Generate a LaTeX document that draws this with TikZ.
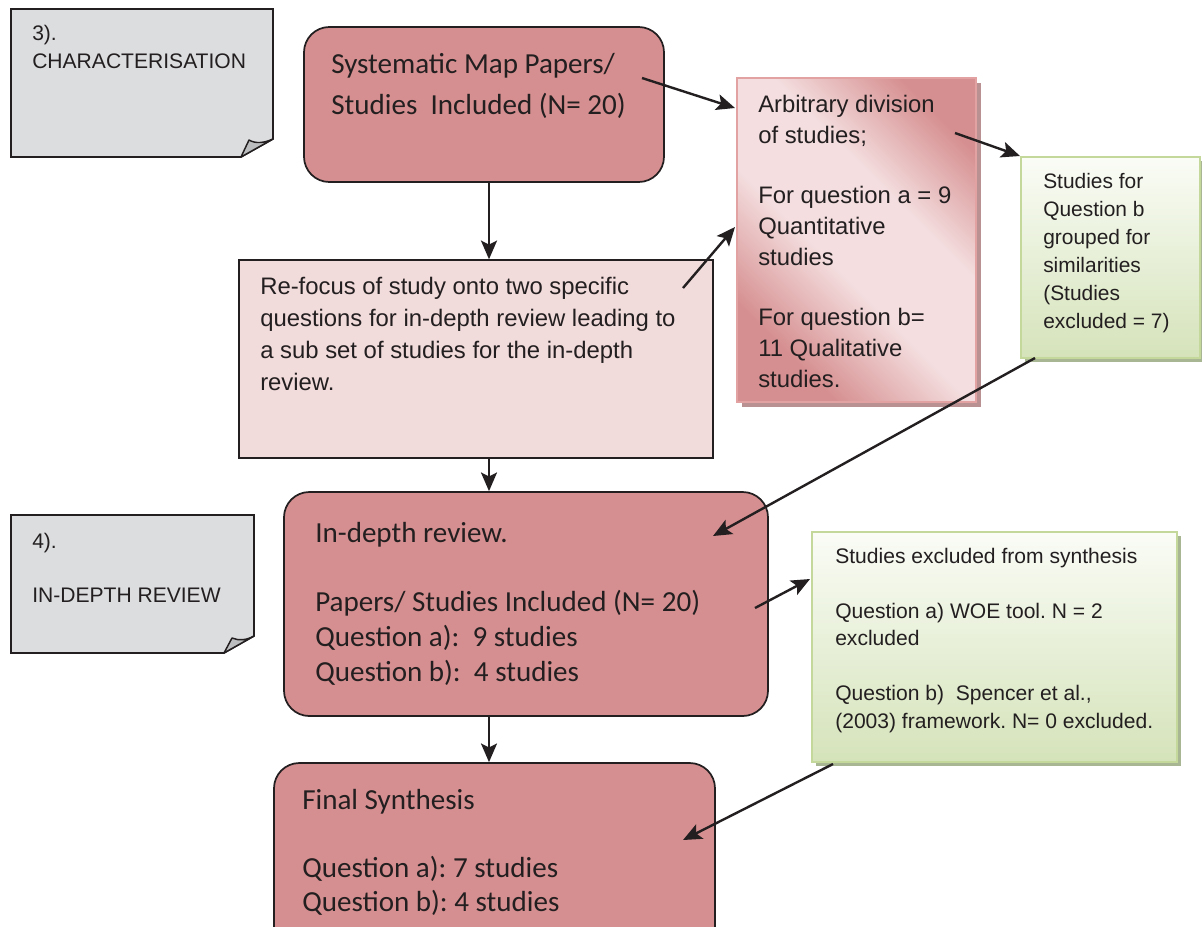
\documentclass[tikz,border=0pt]{standalone}
\usepackage{fontspec}
\setmainfont{Liberation Sans}
\newfontfamily\calib{Carlito}
\usetikzlibrary{calc,fit,arrows.meta,shadings}
\frenchspacing
\definecolor{rose}{RGB}{214,143,144}
\definecolor{roselight}{RGB}{244,222,223}
\definecolor{roseedge}{RGB}{226,162,162}
\definecolor{pinkD}{RGB}{242,219,219}
\definecolor{notegray}{RGB}{220,221,223}
\definecolor{flapgray}{RGB}{188,189,191}
\definecolor{greenbot}{RGB}{213,227,186}
\definecolor{greentop}{RGB}{250,252,246}
\definecolor{greenedge}{RGB}{196,216,156}
\definecolor{ink}{RGB}{35,31,32}
\definecolor{shadowpink}{RGB}{185,145,146}
\definecolor{shadowgreen}{RGB}{168,182,148}
\pgfdeclareverticalshading{roseshade}{100bp}{color(0bp)=(rose); color(27bp)=(rose); color(44bp)=(roselight); color(60bp)=(roselight); color(76bp)=(rose); color(100bp)=(rose)}
\tikzset{
  arr/.style={line width=1.8pt, draw=ink, -{Stealth[length=14pt,width=12pt,inset=3pt]}},
  roundbox/.style={draw=ink, line width=1.3pt, fill=rose, rounded corners=19pt, inner sep=0pt},
  gradbox/.style={draw=roseedge, line width=1.5pt, inner sep=0pt, shading=roseshade, shading angle=-45},
  greenbox/.style={draw=greenedge, line width=1.5pt, inner sep=0pt, top color=greentop, bottom color=greenbot},
  plainbox/.style={draw=ink, line width=1.1pt, fill=pinkD, inner sep=0pt},
  note/.style={draw=ink, line width=1.2pt, fill=notegray, line join=miter},
  flap/.style={draw=ink, line width=1.1pt, fill=flapgray, line join=round},
  txt/.style={anchor=base west, inner sep=0pt, text=ink, align=left},
  arialS/.style={font=\fontsize{15.8pt}{21pt}\selectfont},
  arialM/.style={font=\fontsize{17.9pt}{24pt}\selectfont},
  calb/.style={font=\calib\fontsize{21.8pt}{25.5pt}\selectfont},
}
\begin{document}
\begin{tikzpicture}[x=0.75pt,y=-0.75pt]
\clip (0,0) rectangle (1202,926);
\fill[white] (0,0) rectangle (1202,926);

% notes
\draw[note] (11,9) -- (273,9) -- (273,139) -- (241,157) -- (11,157) -- cycle;
\draw[flap] (241,157) -- (249,140) .. controls (256,144) and (264,143) .. (273,139) -- cycle;
\node[txt, arialS] (t3) at (32,68) {3).\\CHARACTERISATION};

\draw[note] (11,515) -- (254,515) -- (254,636) -- (224,653) -- (11,653) -- cycle;
\draw[flap] (224,653) -- (232,638) .. controls (239,641) and (247,640) .. (254,636) -- cycle;
\node[txt, font=\fontsize{15.8pt}{20.25pt}\selectfont] (t4) at (32,602) {4).\\[20.25pt]IN-DEPTH REVIEW};

% box A
\node[roundbox, fit={(304,27) (664,182)}] (A) {};
\node[txt, font=\calib\fontsize{21.8pt}{30.75pt}\selectfont] (tA) at (331,114) {Systematic Map Papers/\\Studies\ \ Included (N= 20)};

% box B
\fill[shadowpink] (742,83) rectangle (981,407);
\node[gradbox, fit={(737,78) (976,402)}] (B) {};
\node[txt, font=\fontsize{17.9pt}{23.25pt}\selectfont] (tB) at (758,387) {Arbitrary division\\of studies;\\[21.75pt]For question a = 9\\Quantitative\\studies\\[21.75pt]For question b=\\11 Qualitative\\studies.};

% box C
\fill[shadowgreen] (1025,161) rectangle (1204,362);
\node[greenbox, fit={(1021,157) (1200,358)}] (C) {};
\node[txt, font=\fontsize{15.7pt}{21pt}\selectfont] (tC) at (1043,328) {Studies for\\Question b\\grouped for\\similarities\\(Studies\\excluded = 7)};

% box D
\node[plainbox, fit={(239,260) (713,458)}] (D) {};
\node[txt, arialM] (tD) at (260,390) {Re-focus of study onto two specific\\questions for in-depth review leading to\\a sub set of studies for the in-depth\\review.};

% box E
\node[roundbox, fit={(284,492) (768,716)}] (E) {};
\node[txt, font=\calib\fontsize{21.8pt}{26pt}\selectfont] (tE) at (315,681) {In-depth review.\\[26pt]Papers/ Studies Included (N= 20)\\Question a):\ \ 9 studies\\Question b):\ \ 4 studies};

% box F
\fill[shadowgreen] (816,536) rectangle (1181,766);
\node[greenbox, fit={(812,532) (1177,762)}] (F) {};
\node[txt, font=\fontsize{15.8pt}{20.6pt}\selectfont] (tF) at (835,728) {Studies excluded from synthesis\\[20.6pt]Question a) WOE tool. N = 2\\excluded\\[20.6pt]Question b)\ \ Spencer et al.,\\(2003) framework. N= 0 excluded.};

% box G
\node[roundbox, fit={(274,763) (715,965)}] (G) {};
\node[txt, calb] (tG) at (302,911) {Final Synthesis\\[25.5pt]Question a): 7 studies\\Question b): 4 studies};

% connectors
\coordinate (v1) at ($(A.south)+(5,0)$);
\coordinate (v2) at ($(D.south)+(13,0)$);
\coordinate (v3) at ($(E.south)+(-37,0)$);
\draw[arr] (v1) -- (v1 |- D.north);
\draw[arr] (v2) -- (v2 |- E.north);
\draw[arr] (v3) -- (v3 |- G.north);

\coordinate (pA) at (642,78);
\coordinate (pD) at (683,288);
\coordinate (pB) at (955,133);
\coordinate (pC) at (1035,358);
\coordinate (pEin) at (713,536);
\coordinate (pE) at (755,608);
\coordinate (pF) at (833,764);
\coordinate (pGin) at (683,840);
\draw[arr] (pA) -- ($(B.north west)+(-1,31)$);
\draw[arr] (pD) -- ($(B.north west)+(-1,150)$);
\draw[arr] (pB) -- (C.north west);
\draw[arr] (pC) -- (pEin);
\draw[arr] (pE) -- ($(F.north west)+(-1,48)$);
\draw[arr] (pF) -- (pGin);
\end{tikzpicture}
\end{document}
